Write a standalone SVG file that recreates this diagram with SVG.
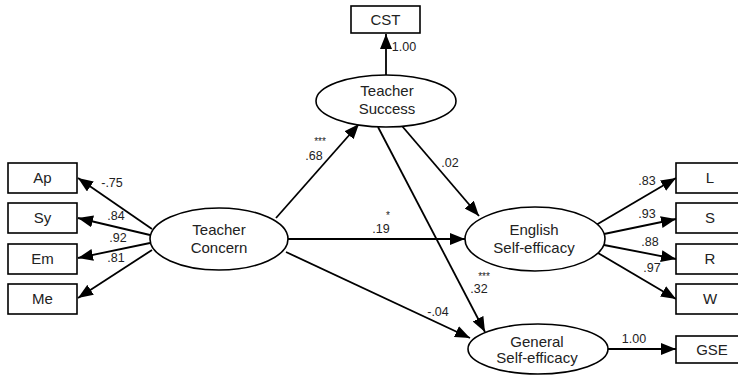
<svg xmlns="http://www.w3.org/2000/svg" width="738" height="375" viewBox="0 0 738 375">
<defs>
<marker id="arr" markerUnits="userSpaceOnUse" markerWidth="16" markerHeight="12" refX="15" refY="6" orient="auto">
<path d="M0,0 L15,6 L0,12 Z" fill="#000"/>
</marker>
<style>
.box{fill:#fff;stroke:#000;stroke-width:1.6}
.ell{fill:#fff;stroke:#000;stroke-width:1.6}
.nt{font-family:"Liberation Sans",Arial,sans-serif;font-size:15px;fill:#222;text-anchor:middle}
.lb{font-family:"Liberation Sans",Arial,sans-serif;font-size:12.5px;fill:#222;text-anchor:middle}
.st{font-family:"Liberation Sans",Arial,sans-serif;font-size:10px;fill:#222;text-anchor:middle}
.c{stroke:#000;stroke-width:1.8;fill:none;marker-end:url(#arr)}
</style>
</defs>
<rect width="738" height="375" fill="#fff"/>
<g id="connectors">
<line class="c" x1="152" y1="229" x2="78" y2="178"/>
<line class="c" x1="150" y1="235" x2="78" y2="218"/>
<line class="c" x1="150" y1="243" x2="78" y2="258"/>
<line class="c" x1="152" y1="250" x2="78" y2="298"/>
<line class="c" x1="386" y1="75" x2="386" y2="34"/>
<line class="c" x1="276" y1="218" x2="359" y2="124"/>
<line class="c" x1="402" y1="126" x2="479" y2="216"/>
<line class="c" x1="378" y1="127" x2="485" y2="332"/>
<line class="c" x1="288" y1="239" x2="465" y2="239"/>
<line class="c" x1="286" y1="252" x2="470" y2="338"/>
<line class="c" x1="596" y1="225" x2="676" y2="178"/>
<line class="c" x1="604" y1="234" x2="676" y2="219"/>
<line class="c" x1="604" y1="245" x2="676" y2="259"/>
<line class="c" x1="598" y1="253" x2="676" y2="299"/>
<line class="c" x1="607" y1="349" x2="676" y2="349"/>
</g>
<g id="labels">
<text class="lb" x="112" y="187">-.75</text>
<text class="lb" x="116" y="220">.84</text>
<text class="lb" x="118" y="242">.92</text>
<text class="lb" x="116" y="262">.81</text>
<text class="lb" x="404" y="51">1.00</text>
<text class="st" x="320" y="145">***</text>
<text class="lb" x="314" y="160">.68</text>
<text class="lb" x="450" y="167">.02</text>
<text class="st" x="388" y="219">*</text>
<text class="lb" x="381" y="233">.19</text>
<text class="st" x="484" y="280">***</text>
<text class="lb" x="479" y="293">.32</text>
<text class="lb" x="438" y="316">-.04</text>
<text class="lb" x="647" y="185">.83</text>
<text class="lb" x="647" y="218">.93</text>
<text class="lb" x="650" y="246">.88</text>
<text class="lb" x="652" y="272">.97</text>
<text class="lb" x="634" y="343">1.00</text>
</g>
<g id="node-Ap"><rect class="box" x="8" y="163" width="69" height="30"/><text class="nt" x="42.5" y="183">Ap</text></g>
<g id="node-Sy"><rect class="box" x="8" y="203" width="69" height="30"/><text class="nt" x="42.5" y="223">Sy</text></g>
<g id="node-Em"><rect class="box" x="8" y="244" width="69" height="30"/><text class="nt" x="42.5" y="264">Em</text></g>
<g id="node-Me"><rect class="box" x="8" y="284" width="69" height="30"/><text class="nt" x="42.5" y="304">Me</text></g>
<g id="node-CST"><rect class="box" x="351" y="6" width="69" height="27"/><text class="nt" x="385.5" y="25">CST</text></g>
<g id="node-TeacherSuccess"><ellipse class="ell" cx="386" cy="101" rx="70" ry="26"/><text class="nt" x="387" y="96">Teacher</text><text class="nt" x="387" y="114">Success</text></g>
<g id="node-TeacherConcern"><ellipse class="ell" cx="219" cy="239" rx="69" ry="31"/><text class="nt" x="219" y="235">Teacher</text><text class="nt" x="219" y="253">Concern</text></g>
<g id="node-EnglishSE"><ellipse class="ell" cx="535" cy="239" rx="70" ry="32"/><text class="nt" x="534" y="235">English</text><text class="nt" x="534" y="253">Self-efficacy</text></g>
<g id="node-GeneralSE"><ellipse class="ell" cx="538" cy="349" rx="70" ry="25"/><text class="nt" x="537" y="347">General</text><text class="nt" x="537" y="363">Self-efficacy</text></g>
<g id="node-L"><rect class="box" x="676" y="163" width="68" height="30"/><text class="nt" x="710" y="183">L</text></g>
<g id="node-S"><rect class="box" x="676" y="203" width="68" height="30"/><text class="nt" x="710" y="223">S</text></g>
<g id="node-R"><rect class="box" x="676" y="244" width="68" height="30"/><text class="nt" x="710" y="264">R</text></g>
<g id="node-W"><rect class="box" x="676" y="284" width="68" height="30"/><text class="nt" x="710" y="304">W</text></g>
<g id="node-GSE"><rect class="box" x="676" y="336" width="68" height="27"/><text class="nt" x="712" y="355">GSE</text></g>
</svg>
